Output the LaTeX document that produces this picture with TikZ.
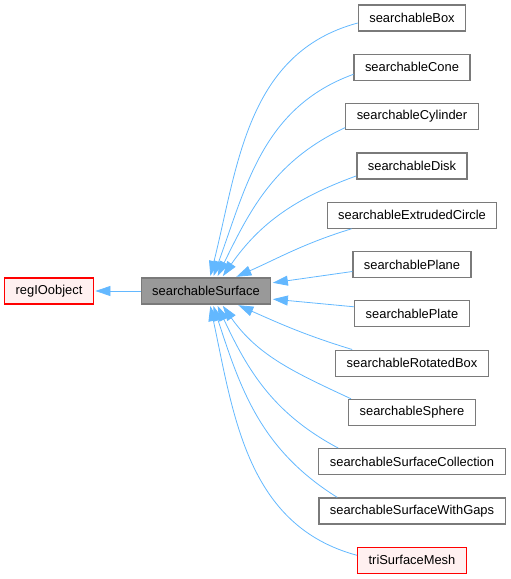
\documentclass[tikz,border=0pt]{standalone}
\usepackage{fontspec}
\setmainfont{Liberation Sans}
\usetikzlibrary{arrows.meta}
\definecolor{edgeblue}{HTML}{63B8FF}
\definecolor{boxgray}{HTML}{7A7A7A}
\definecolor{basefill}{HTML}{999999}
\definecolor{redfill}{HTML}{FFF0F0}
\tikzset{>={Triangle[length=15pt,width=10pt]}, line width=1.0pt}
\tikzset{
  cls/.style={rectangle,draw=boxgray,fill=white,line width=1.2pt,inner xsep=11pt,
    inner ysep=0pt,minimum height=26pt,font=\fontsize{12.9}{15}\selectfont},
  basecls/.style={cls,fill=basefill},
  redcls/.style={cls,draw=red,fill=redfill},
  inherit/.style={->,draw=edgeblue,line width=0.8pt,shorten >=1.5pt}
}
\begin{document}
\begin{tikzpicture}[x=1pt,y=1pt]
  \useasboundingbox (0,0) rectangle (511,-579);
  \def\xright{412}
  \def\ytop{18}
  \def\ystep{49.3}

  % base classes
  \node[redcls] (IOobject) at (49,-291) {regIOobject};
  \node[basecls] (Surface) at (206,-291) {searchableSurface};

  % derived classes
  \node[cls] (Box) at (\xright,-\ytop) {searchableBox};
  \node[cls] (Cone) at (\xright,-\ytop-1*\ystep) {searchableCone};
  \node[cls] (Cylinder) at (\xright,-\ytop-2*\ystep) {searchableCylinder};
  \node[cls] (Disk) at (\xright,-\ytop-3*\ystep) {searchableDisk};
  \node[cls] (Extruded) at (\xright,-\ytop-4*\ystep) {searchableExtrudedCircle};
  \node[cls] (Plane) at (\xright,-\ytop-5*\ystep) {searchablePlane};
  \node[cls] (Plate) at (\xright,-\ytop-6*\ystep) {searchablePlate};
  \node[cls] (RotBox) at (\xright,-\ytop-7*\ystep) {searchableRotatedBox};
  \node[cls] (Sphere) at (\xright,-\ytop-8*\ystep) {searchableSphere};
  \node[cls] (Collection) at (\xright,-\ytop-9*\ystep) {searchableSurfaceCollection};
  \node[cls] (WithGaps) at (\xright,-\ytop-10*\ystep) {searchableSurfaceWithGaps};
  \node[redcls] (TriMesh) at (\xright,-\ytop-11*\ystep) {triSurfaceMesh};

  % searchableSurface -> regIOobject
  \draw[inherit] (Surface) -- (IOobject);

  % upper branch
  \draw[inherit] ([yshift=-5pt]Box.west) to[out=195,in=76]
    ([xshift=4pt]Surface.north);
  \draw[inherit] ([yshift=-7pt]Cone.west) to[out=200,in=70]
    ([xshift=7pt]Surface.north);
  \draw[inherit] ([yshift=-11pt]Cylinder.west) to[out=205,in=64]
    ([xshift=11pt]Surface.north);
  \draw[inherit] ([yshift=-10pt]Disk.west) to[out=200,in=55]
    ([xshift=16pt]Surface.north);
  \draw[inherit] ([xshift=25pt]Extruded.south west) to[out=197,in=24]
    ([xshift=29pt]Surface.north);

  % side branch
  \draw[inherit] ([yshift=-7pt]Plane.west) -- ([yshift=8pt]Surface.east);
  \draw[inherit] ([yshift=7pt]Plate.west) -- ([yshift=-8pt]Surface.east);

  % lower branch
  \draw[inherit] ([xshift=17pt]RotBox.north west) to[out=163,in=-24]
    ([xshift=31pt]Surface.south);
  \draw[inherit] ([xshift=3pt]Sphere.north west) to[out=155,in=-55]
    ([xshift=16pt]Surface.south);
  \draw[inherit] ([xshift=20pt]Collection.north west) to[out=152,in=-65]
    ([xshift=11pt]Surface.south);
  \draw[inherit] ([xshift=19pt]WithGaps.north west) to[out=148,in=-72]
    ([xshift=7pt]Surface.south);
  \draw[inherit] ([yshift=5pt]TriMesh.west) to[out=165,in=-78]
    ([xshift=4pt]Surface.south);
\end{tikzpicture}
\end{document}
